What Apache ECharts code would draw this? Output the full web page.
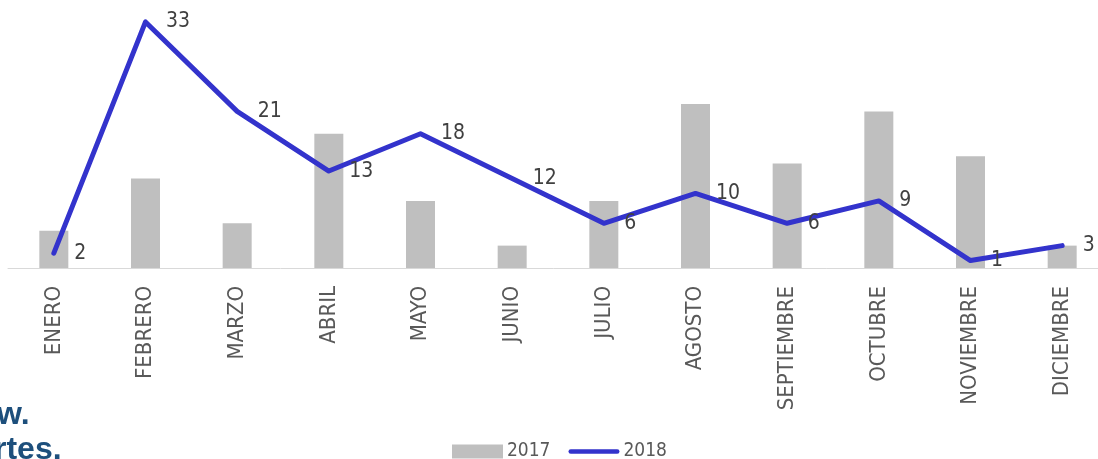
<!DOCTYPE html>
<html>
<head>
<meta charset="utf-8">
<script src="https://cdn.jsdelivr.net/npm/echarts@6/dist/echarts.min.js"></script>
<style>html,body{margin:0;padding:0;background:#fff;}#c{width:1098px;height:459px;}</style>
</head>
<body>
<div id="c"></div>
<script>
const months = ['ENERO','FEBRERO','MARZO','ABRIL','MAYO','JUNIO','JULIO','AGOSTO','SEPTIEMBRE','OCTUBRE','NOVIEMBRE','DICIEMBRE'];
const values2017 = [5, 12, 6, 18, 9, 3, 9, 22, 14, 21, 15, 3];
const values2018 = [2, 33, 21, 13, 18, 12, 6, 10, 6, 9, 1, 3];
const seriesNames = ['2017', '2018'];

const NARROW = '"DejaVu Sans Condensed", "Liberation Sans Narrow", sans-serif';
const chart = echarts.init(document.getElementById('c'), null, {renderer: 'canvas'});
chart.setOption({
  animation: false,
  backgroundColor: '#ffffff',
  grid: {left: 8, width: 1100, top: 7, bottom: 191, containLabel: false, outerBoundsMode: 'none'},
  legend: {
    data: [
      {name: seriesNames[0], icon: 'rect'},
      {name: seriesNames[1], icon: 'path://M2.5,0 L53.5,0 A2.5,2.5 0 0 1 53.5,5 L2.5,5 A2.5,2.5 0 0 1 2.5,0 Z'}
    ],
    left: 447, top: 437,
    itemWidth: 51, itemHeight: 14, itemGap: 18,
    symbolKeepAspect: true,
    textStyle: {fontFamily: NARROW, fontSize: 19, color: '#595959', padding: [0, 0, 0, -1]}
  },
  xAxis: {
    type: 'category',
    data: months,
    axisLine: {show: true, lineStyle: {color: '#d9d9d9', width: 1}},
    axisTick: {show: false},
    axisLabel: {interval: 0, rotate: 90, margin: 18, fontFamily: NARROW, fontSize: 22, color: '#595959'}
  },
  yAxis: {
    type: 'value', min: 0, max: 35,
    show: false,
    splitLine: {show: false}
  },
  graphic: [
    {type: 'text', left: -3, top: 399, style: {text: 'w.', fontFamily: '"Liberation Sans", Arial, sans-serif', fontWeight: 'bold', fontSize: 32, fill: '#1d4f7c'}},
    {type: 'text', left: -6, top: 434, style: {text: 'rtes.', fontFamily: '"Liberation Sans", Arial, sans-serif', fontWeight: 'bold', fontSize: 32, fill: '#1d4f7c'}}
  ],
  series: [
    {
      name: seriesNames[0], type: 'bar', data: values2017,
      barWidth: 29,
      itemStyle: {color: '#bfbfbf'}
    },
    {
      name: seriesNames[1], type: 'line', data: values2018,
      symbol: 'circle', symbolSize: 1, showSymbol: true,
      itemStyle: {color: '#3333cc'},
      lineStyle: {color: '#3333cc', width: 5, cap: 'round', join: 'round'},
      label: {show: true, position: 'right', distance: 20, fontFamily: NARROW, fontSize: 21, color: '#404040'},
      z: 3
    }
  ]
});
</script>
</body>
</html>
